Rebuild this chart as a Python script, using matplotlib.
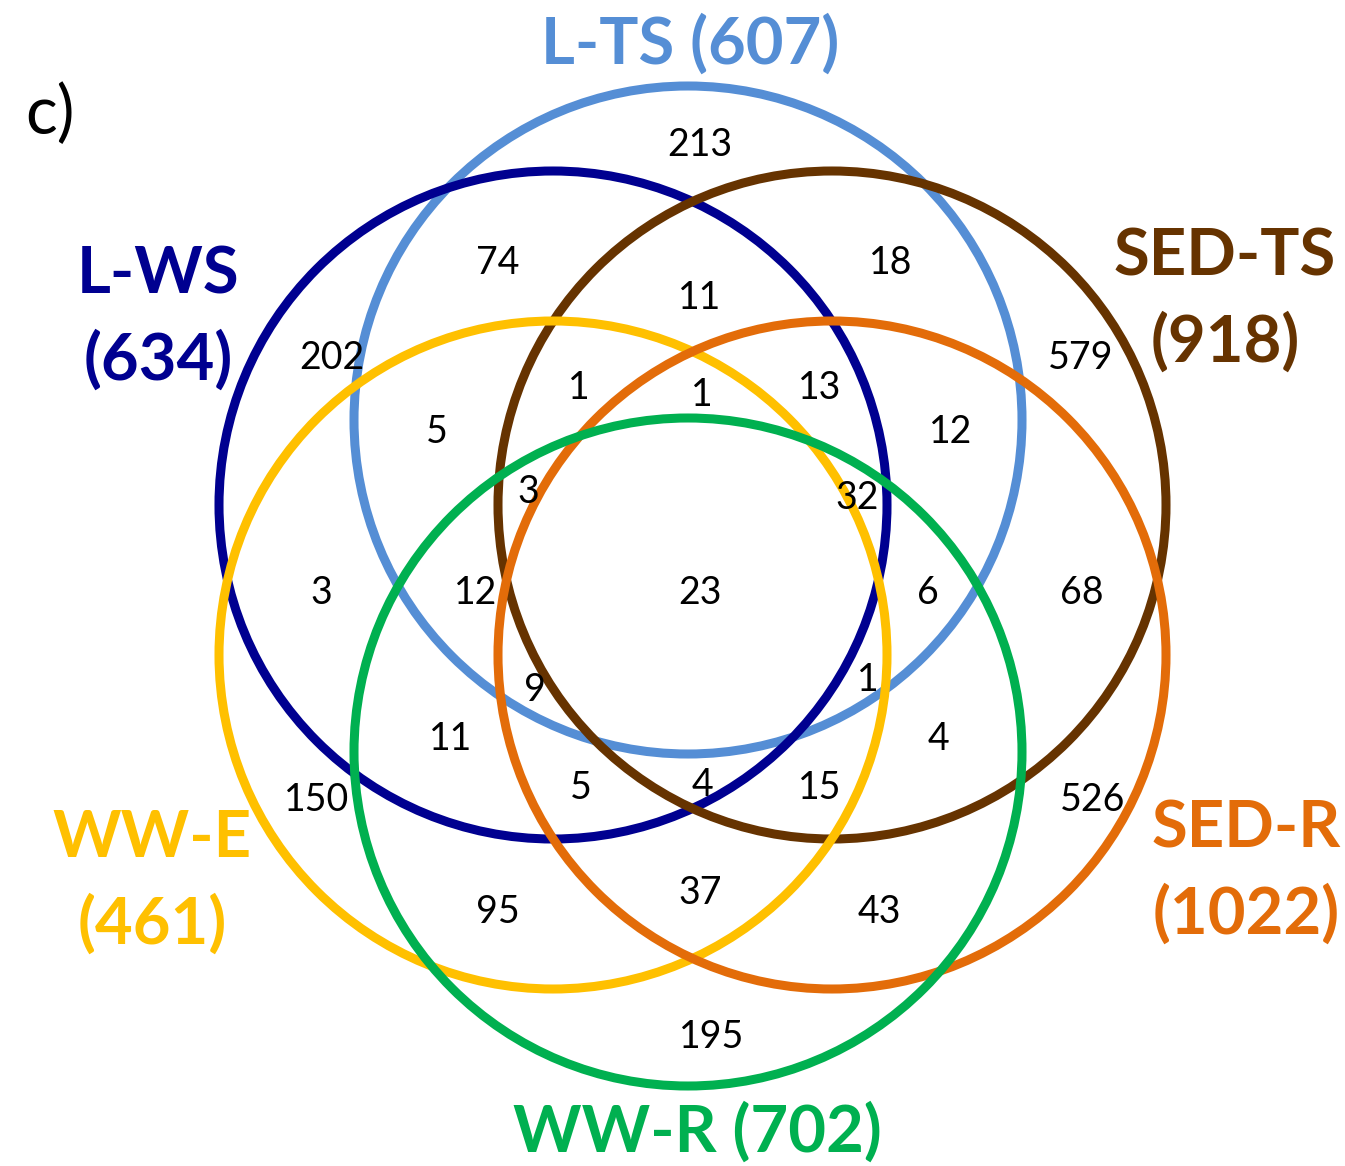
import matplotlib
matplotlib.use("Agg")
from matplotlib import pyplot as plt
from matplotlib.patches import Circle

plt.rcParams['font.family'] = ['Lato', 'DejaVu Sans']

# sets and their totals
set_names = ['L-TS', 'L-WS', 'SED-TS', 'WW-E', 'SED-R', 'WW-R']
set_totals = [607, 634, 918, 461, 1022, 702]
set_colors = ['#558ED5', '#000090', '#663300', '#FFC000', '#E36C09', '#00B050']

# region counts, read row by row from top to bottom
region_counts = [213, 74, 18, 11, 202, 579, 1, 1, 13, 5, 12, 3, 32,
                 3, 12, 23, 6, 68, 9, 1, 11, 4, 150, 5, 4, 15, 526,
                 95, 37, 43, 195]

# layout (pixel coords of the original figure)
circle_xy = [(688, 420), (553, 505), (832, 505), (553, 655), (832, 655), (688, 752)]
radius = 334
region_xy = [(700, 145), (498, 263), (891, 263), (700, 298), (332, 358), (1081, 358),
             (579, 388), (702, 395), (820, 388), (437, 432), (951, 432), (528, 492),
             (857, 498), (321, 593), (476, 593), (700, 593), (928, 593), (1082, 593),
             (535, 690), (868, 680), (451, 739), (939, 739), (317, 800), (581, 788),
             (702, 785), (820, 788), (1093, 800), (498, 912), (700, 893), (879, 912),
             (712, 1037)]
label_xy = [(690, 44), (158, 318), (1225, 300), (152, 882), (1246, 872), (697, 1132)]
label_split = [False, True, True, True, True, False]

fig = plt.figure(figsize=(13.45, 11.66), dpi=100)
ax = fig.add_axes([0, 0, 1, 1])
ax.set_xlim(0, 1345)
ax.set_ylim(1166, 0)
ax.set_aspect('equal')
ax.axis('off')

for (cx, cy), c in zip(circle_xy, set_colors):
    ax.add_patch(Circle((cx, cy), radius, fill=False, edgecolor=c, lw=6.5))

for (x, y), n in zip(region_xy, region_counts):
    ax.text(x, y, str(n), ha='center', va='center', fontsize=27, color='black')

for (x, y), name, tot, c, split in zip(label_xy, set_names, set_totals, set_colors, label_split):
    sep = '\n' if split else ' '
    ax.text(x, y, f'{name}{sep}({tot})', ha='center', va='center', fontsize=47,
            fontweight='bold', color=c, linespacing=1.5)

ax.text(50, 115, 'c)', ha='center', va='center', fontsize=48, color='black')

plt.savefig('out.png', dpi=100)
